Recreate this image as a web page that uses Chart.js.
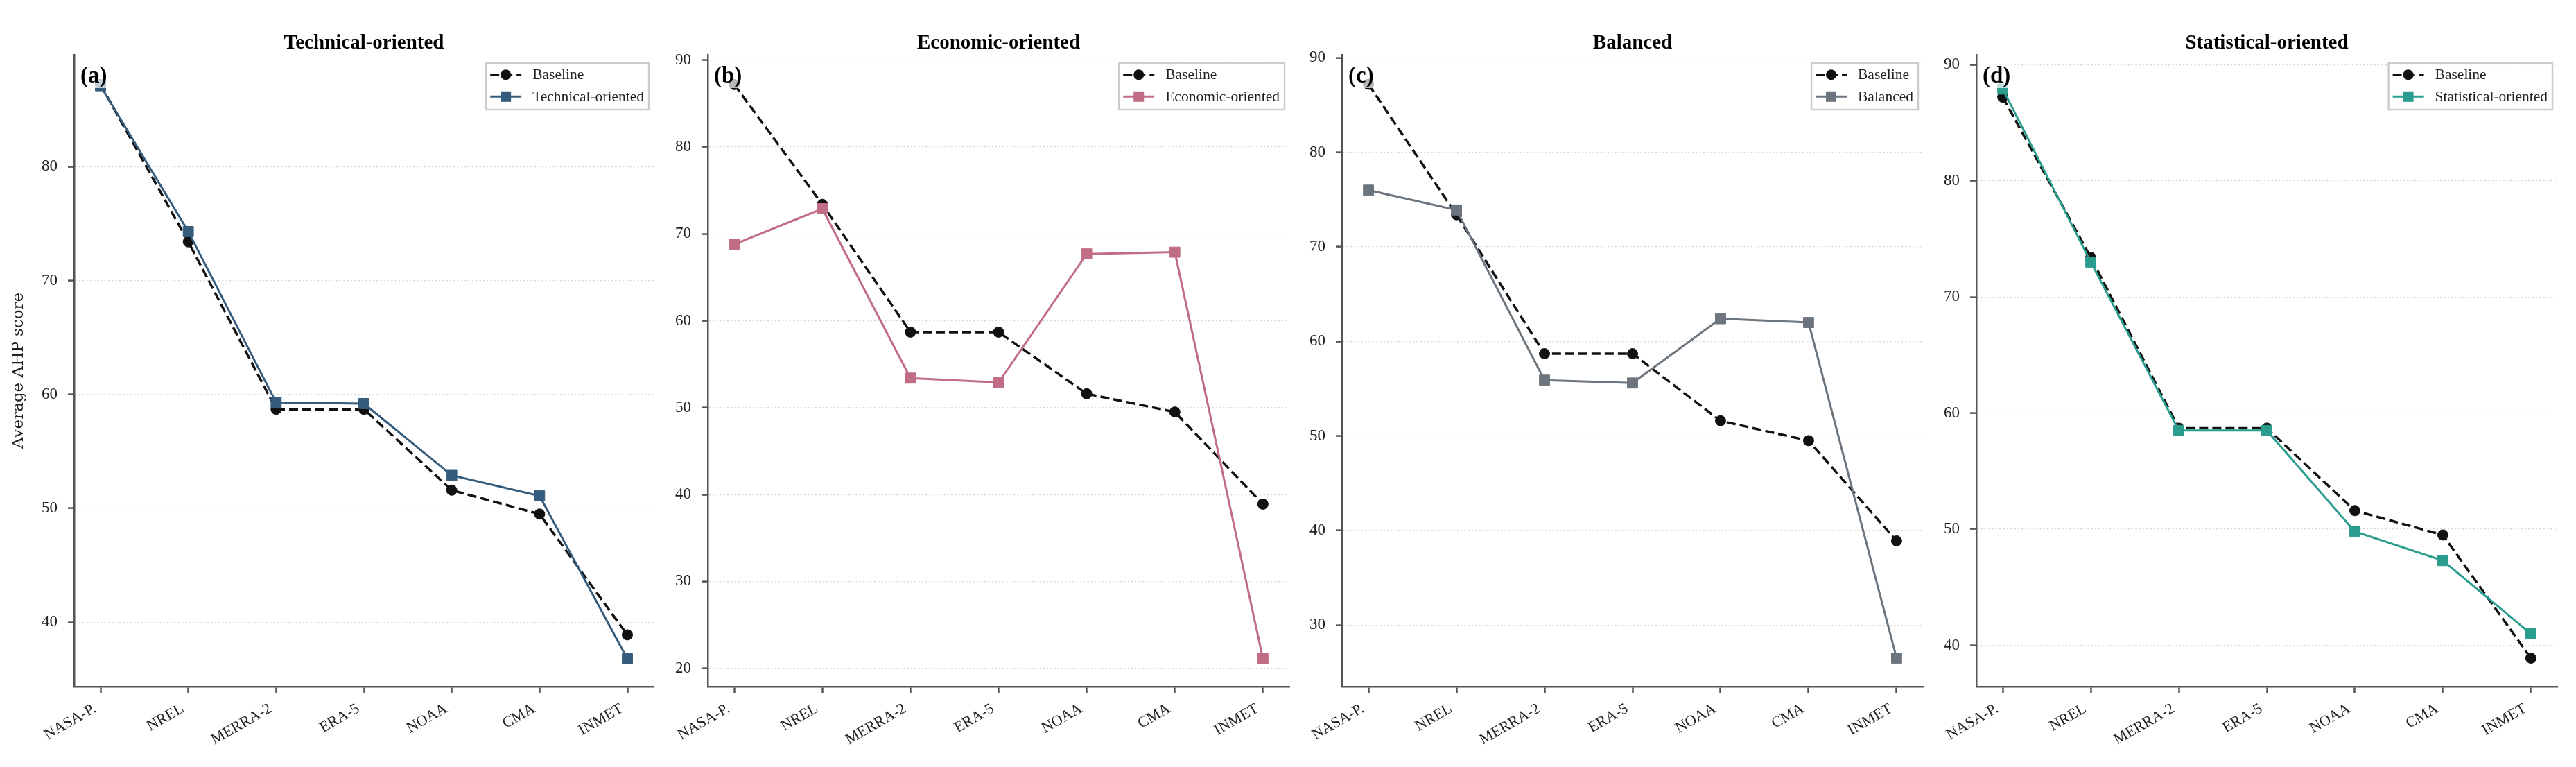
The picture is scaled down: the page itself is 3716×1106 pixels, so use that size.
<!DOCTYPE html>
<html>
<head>
<meta charset="utf-8">
<script src="https://cdn.jsdelivr.net/npm/chart.js@4.4.1/dist/chart.umd.min.js"></script>
<style>
  html, body { margin: 0; padding: 0; background: #ffffff; }
  body { width: 3716px; height: 1106px; position: relative; overflow: hidden; }
  canvas { position: absolute; top: 0; }
</style>
</head>
<body>
<canvas id="c0"></canvas>
<canvas id="c1"></canvas>
<canvas id="c2"></canvas>
<canvas id="c3"></canvas>
<script>
// ---------------- data ----------------
const categories = ['NASA-P.', 'NREL', 'MERRA-2', 'ERA-5', 'NOAA', 'CMA', 'INMET'];
const baselineScores    = [87.2, 73.4, 58.7, 58.7, 51.6, 49.5, 38.9];
const technicalScores   = [87.1, 74.3, 59.3, 59.2, 52.9, 51.1, 36.8];
const economicScores    = [68.8, 72.9, 53.4, 52.9, 67.7, 67.9, 21.1];
const balancedScores    = [76.0, 73.9, 55.9, 55.6, 62.4, 62.0, 26.5];
const statisticalScores = [87.9, 73.0, 58.5, 58.5, 49.8, 47.3, 41.0];
const panelTitles = ['Technical-oriented', 'Economic-oriented', 'Balanced', 'Statistical-oriented'];
const panelTags = ['(a)', '(b)', '(c)', '(d)'];
const yAxisTitle = 'Average AHP score';
const baselineLabel = 'Baseline';

// ---------------- layout / style ----------------
const SERIF = "'Liberation Serif', 'Times New Roman', serif";
Chart.defaults.font.family = SERIF;
Chart.defaults.color = '#222';

const panels = [
  { values: technicalScores,   color: '#355C7D', left: 107,  right: 943,  yMin: 34.36, yMax: 89.82 },
  { values: economicScores,    color: '#C06C84', left: 1021, right: 1860, yMin: 17.9,  yMax: 90.62 },
  { values: balancedScores,    color: '#6C757D', left: 1936, right: 2774, yMin: 23.49, yMax: 90.32 },
  { values: statisticalScores, color: '#2A9D8F', left: 2851, right: 3689, yMin: 36.45, yMax: 90.85 }
];

const panelDecor = {
  id: 'panelDecor',
  afterDraw(chart, args, opts) {
    const { ctx, chartArea: ca } = chart;
    ctx.save();
    // panel title
    ctx.font = 'bold 29px ' + SERIF;
    ctx.fillStyle = '#000';
    ctx.textAlign = 'center';
    ctx.textBaseline = 'alphabetic';
    ctx.fillText(opts.title, (ca.left + ca.right) / 2, 70);
    // tag
    ctx.font = 'bold 33px ' + SERIF;
    ctx.textAlign = 'left';
    const tw = ctx.measureText(opts.tag).width;
    ctx.fillStyle = 'rgba(255,255,255,0.7)';
    ctx.fillRect(ca.left + 6, ca.top + 14, tw + 6, 34);
    ctx.fillStyle = '#000';
    ctx.fillText(opts.tag, ca.left + 9, ca.top + 40);
    // legend
    const items = chart.data.datasets.slice().sort((a, b) => b.order - a.order);
    ctx.font = '21.5px ' + SERIF;
    const textW = Math.max(...items.map(d => ctx.measureText(d.label).width));
    const w = 6 + 45 + 16 + textW + 7, h = 67;
    const x0 = ca.right - 7 - w, y0 = ca.top + 12;
    ctx.fillStyle = 'rgba(255,255,255,0.9)';
    ctx.fillRect(x0, y0, w, h);
    ctx.strokeStyle = '#cccccc';
    ctx.lineWidth = 2.5;
    ctx.strokeRect(x0, y0, w, h);
    items.forEach((d, k) => {
      const cy = y0 + 16.7 + k * 31.6;
      ctx.beginPath();
      ctx.setLineDash(d.borderDash || []);
      ctx.strokeStyle = d.borderColor;
      ctx.lineWidth = d.borderWidth;
      ctx.moveTo(x0 + 6, cy);
      ctx.lineTo(x0 + 51, cy);
      ctx.stroke();
      ctx.setLineDash([]);
      ctx.fillStyle = d.pointBackgroundColor;
      const mx = x0 + 28.5;
      if (d.pointStyle === 'circle') {
        ctx.beginPath();
        ctx.arc(mx, cy, 7.5, 0, Math.PI * 2);
        ctx.fill();
      } else {
        ctx.fillRect(mx - 7.5, cy - 7.5, 15, 15);
      }
      ctx.fillStyle = '#222';
      ctx.textAlign = 'left';
      ctx.textBaseline = 'middle';
      ctx.fillText(d.label, x0 + 67, cy + 1);
    });
    ctx.restore();
  }
};

panels.forEach((p, i) => {
  const Wy = i === 0 ? 107 : 90;
  const canvas = document.getElementById('c' + i);
  canvas.width = Wy + (p.right - p.left) + 20;
  canvas.height = 1106;
  canvas.style.left = (p.left - Wy) + 'px';
  canvas.style.width = canvas.width + 'px';
  canvas.style.height = '1106px';

  const toPts = arr => categories.map((c, k) => ({ x: k, y: arr[k] }));

  new Chart(canvas, {
    type: 'line',
    data: {
      datasets: [
        {
          label: baselineLabel,
          data: toPts(baselineScores),
          borderColor: '#111111',
          backgroundColor: '#111111',
          borderWidth: 3.5,
          borderDash: [13, 6],
          pointStyle: 'circle',
          pointRadius: 7.5,
          pointHoverRadius: 7.5,
          pointBackgroundColor: '#111111',
          pointBorderColor: '#111111',
          pointBorderWidth: 1,
          tension: 0,
          fill: false,
          order: 1
        },
        {
          label: panelTitles[i],
          data: toPts(p.values),
          borderColor: p.color,
          backgroundColor: p.color,
          borderWidth: 3,
          pointStyle: 'rect',
          pointRadius: 10.5,
          pointHoverRadius: 10.5,
          pointBackgroundColor: p.color,
          pointBorderColor: p.color,
          pointBorderWidth: 1,
          tension: 0,
          fill: false,
          order: 0
        }
      ]
    },
    options: {
      responsive: false,
      animation: false,
      devicePixelRatio: 1,
      layout: { padding: { top: 79, right: 20, bottom: 0, left: 0 } },
      plugins: {
        legend: { display: false },
        tooltip: { enabled: false },
        title: { display: false },
        panelDecor: { title: panelTitles[i], tag: panelTags[i] }
      },
      scales: {
        x: {
          type: 'linear',
          min: -0.3,
          max: 6.3,
          afterFit: s => { s.height = 116; },
          ticks: {
            stepSize: 1,
            includeBounds: false,
            autoSkip: false,
            minRotation: 30,
            maxRotation: 30,
            padding: 10,
            labelOffset: -8,
            font: { size: 22 },
            color: '#222',
            callback: v => (Number.isInteger(v) && categories[v] !== undefined) ? categories[v] : ''
          },
          grid: {
            drawOnChartArea: false,
            drawTicks: true,
            tickLength: 9,
            tickWidth: 2.5,
            tickColor: '#555',
            color: '#555'
          },
          border: { color: '#555', width: 2.5 }
        },
        y: {
          min: p.yMin,
          max: p.yMax,
          afterFit: s => { s.width = Wy; },
          ticks: {
            stepSize: 10,
            includeBounds: false,
            padding: 15,
            font: { size: 23 },
            color: '#222'
          },
          grid: {
            color: '#d4d4d4',
            lineWidth: 1.2,
            tickLength: 9,
            tickWidth: 2.5,
            tickColor: '#555'
          },
          border: { color: '#555', width: 2.5, dash: [2, 3.3] },
          title: {
            display: i === 0,
            text: yAxisTitle,
            font: { family: "'DejaVu Serif', serif", size: 23 },
            color: '#222',
            padding: { top: 13, bottom: 0 }
          }
        }
      }
    },
    plugins: [panelDecor]
  });
});
</script>
</body>
</html>
